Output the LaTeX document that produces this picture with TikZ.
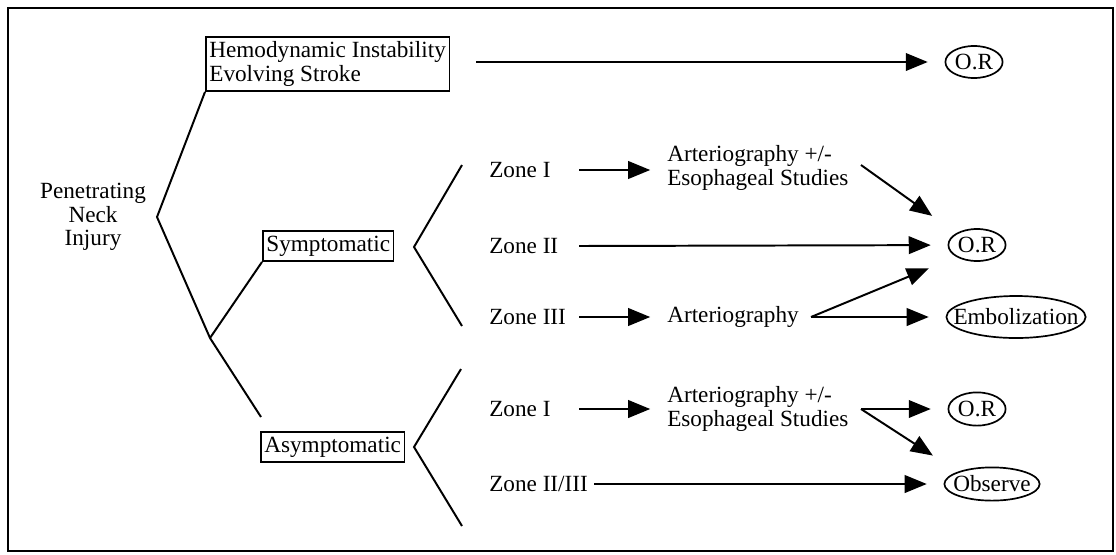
\documentclass[tikz,border=0pt]{standalone}
\usepackage{fontspec}
\setmainfont{Liberation Serif}
\usetikzlibrary{arrows.meta,shapes.geometric}
\newcommand{\fs}{\fontsize{16.5}{16.5}\selectfont}
\tikzset{
  lbl/.style={font=\fs,inner sep=0pt,align=left},
  tag/.style={draw,line width=1.2pt,inner xsep=2.5pt,inner ysep=3.5pt,font=\fs,align=left},
  oval/.style={draw,ellipse,line width=1.2pt,inner xsep=-9.6pt,inner ysep=-5pt,font=\fs},
  orv/.style={oval,minimum width=1.43cm,minimum height=0.8cm},
  brk/.style={line width=1.4pt},
  arr/.style={-{Triangle[length=5.5mm,width=4.4mm]},line width=1.4pt,shorten >=0.42cm},
  diag/.style={arr,shorten >=0.74cm}
}
\begin{document}
\begin{tikzpicture}[x=0.025cm,y=-0.025cm]
  \useasboundingbox (0,0) rectangle (1116,554);
  \draw[line width=1pt] (8,8) rectangle (1113,551);

  % first split
  \node[lbl,align=center] (pni) at (93,217) {Penetrating\\Neck\\Injury};
  \node[tag,anchor=west] (hemo) at (205,64) {Hemodynamic Instability\\Evolving Stroke};
  \node[tag,anchor=west] (sym) at (262,246) {Symptomatic};
  \node[tag,anchor=west] (asym) at (260,447) {Asymptomatic};
  \coordinate (v0) at (157,217);
  \coordinate (v1) at (210,338);
  \coordinate (v2) at (261,417);
  \draw[brk] (hemo.south west) -- (v0) -- (v1) -- (v2);
  \draw[brk] (v1) -- (sym.south west);

  % zone brackets
  \coordinate (bt1) at (462,165);
  \coordinate (bv1) at (414,247);
  \coordinate (bb1) at (462,326);
  \coordinate (bt2) at (461,369);
  \coordinate (bv2) at (414,447);
  \coordinate (bb2) at (462,526);
  \draw[brk] (bt1) -- (bv1) -- (bb1);
  \draw[brk] (bt2) -- (bv2) -- (bb2);

  \node[lbl,anchor=west] (z1a) at (489,170) {Zone I};
  \node[lbl,anchor=west] (z2a) at (489,246) {Zone II};
  \node[lbl,anchor=west] (z3a) at (489,317) {Zone III};
  \node[lbl,anchor=west] (z1b) at (489,409) {Zone I};
  \node[lbl,anchor=west] (z23b) at (489,484) {Zone II/III};

  \node[lbl,anchor=west] (art1) at (667,168) {Arteriography +/-\\Esophageal Studies};
  \node[lbl,anchor=west] (art2) at (667,317) {Arteriography};
  \node[lbl,anchor=west] (art3) at (667,409) {Arteriography +/-\\Esophageal Studies};

  % outcomes
  \node[orv] (or1) at (974,62) {O.R};
  \node[orv] (or2) at (977,245) {O.R};
  \node[oval,minimum width=3.48cm,minimum height=1.05cm] (emb) at (1016,317) {Embolization};
  \node[orv,minimum height=0.83cm] (or3) at (977,409) {O.R};
  \node[oval,minimum width=2.38cm,minimum height=0.83cm] (obs) at (992,484) {Observe};

  \coordinate (colA) at (579,0);
  \coordinate (colB) at (594,0);
  \coordinate (f1) at (861,165);
  \coordinate (f2) at (811,317);
  \coordinate (f3) at (861,409);

  \draw[arr,shorten <=0.65cm] (hemo.east |- or1) -- (or1);
  \draw[arr] (z1a -| colA) -- (art1.west |- z1a);
  \draw[arr] (z2a -| colA) -- (or2);
  \draw[arr] (z3a -| colA) -- (art2);
  \draw[arr] (z1b -| colA) -- (art3.west |- z1b);
  \draw[arr] (z23b -| colB) -- (obs);
  \draw[diag] (f1) -- (or2.north west);
  \draw[diag] (f2) -- (or2.south west);
  \draw[arr] (f2) -- (emb);
  \draw[arr] (f3) -- (or3);
  \draw[diag] (f3) -- (obs.north west);
\end{tikzpicture}
\end{document}
